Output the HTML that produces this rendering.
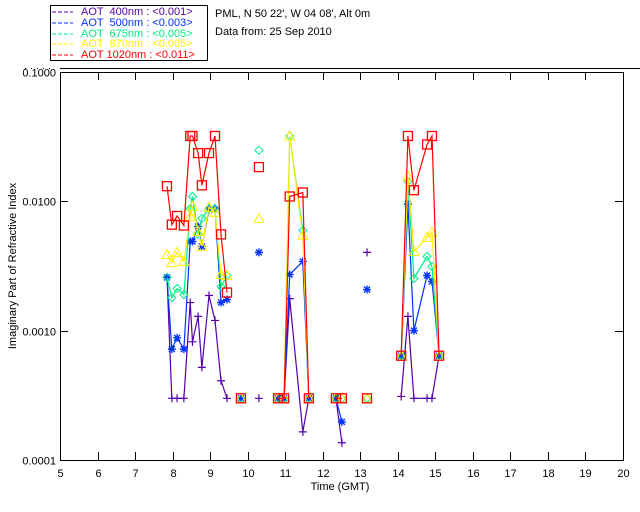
<!DOCTYPE html>
<html><head><meta charset="utf-8"><style>
body{margin:0;background:#fff;width:640px;height:512px;overflow:hidden}
svg{display:block;font-family:"Liberation Sans",sans-serif}
</style></head><body>
<svg id="chart" width="640" height="512">
<g>
<rect x="50.5" y="5.5" width="157" height="55" fill="#fff" stroke="#000"/>
<g font-size="11">
<g><line x1="52" y1="12" x2="73" y2="12" stroke="#5500aa" stroke-dasharray="4,2"/><text x="81" y="15" fill="#5500aa" xml:space="preserve">AOT  400nm : &lt;0.001&gt;</text></g>
<g><line x1="52" y1="23" x2="73" y2="23" stroke="#0033ff" stroke-dasharray="4,2"/><text x="81" y="26" fill="#0033ff" xml:space="preserve">AOT  500nm : &lt;0.003&gt;</text></g>
<g><line x1="52" y1="34" x2="73" y2="34" stroke="#00ee88" stroke-dasharray="4,2"/><text x="81" y="37" fill="#00ee88" xml:space="preserve">AOT  675nm : &lt;0.005&gt;</text></g>
<g><line x1="52" y1="44" x2="73" y2="44" stroke="#ffee00" stroke-dasharray="4,2"/><text x="81" y="47" fill="#ffee00" xml:space="preserve">AOT  870nm : &lt;0.005&gt;</text></g>
<g><line x1="52" y1="55" x2="73" y2="55" stroke="#ff0000" stroke-dasharray="4,2"/><text x="81" y="58" fill="#ff0000" xml:space="preserve">AOT 1020nm : &lt;0.011&gt;</text></g>
</g></g>
<text x="215" y="17" font-size="11">PML, N 50 22', W 04 08', Alt 0m</text>
<text x="215" y="35" font-size="11">Data from: 25 Sep 2010</text>
<line x1="25" y1="68.5" x2="55" y2="68.5" stroke="#000" stroke-dasharray="1,5"/>
<line x1="60" y1="68.5" x2="640" y2="68.5" stroke="#000"/>
<rect x="60.5" y="72.5" width="563" height="388" fill="none" stroke="#000"/>
<g id="axes" font-size="11"></g>
<g id="series"></g>
<text x="340" y="490" font-size="11" text-anchor="middle">Time (GMT)</text>
<text transform="translate(16,266) rotate(-90)" font-size="11" text-anchor="middle">Imaginary Part of Refractive Index</text>
</svg>
<script>
const times=[7.85,7.98,8.12,8.30,8.47,8.53,8.68,8.78,8.97,9.13,9.29,9.45,9.82,10.30,10.81,10.97,11.12,11.47,11.63,12.35,12.51,13.18,14.09,14.27,14.43,14.78,14.91,15.10];
const groups=[0,0,0,0,0,0,0,0,0,0,0,0,1,2,3,3,3,3,3,4,4,5,6,6,6,6,6,6];
const aot400=[0.0026,0.0003,0.0003,0.0003,0.00165,0.00082,0.00129,0.00052,0.00187,0.0012,0.00041,0.0003,0.0003,0.0003,0.0003,0.0003,0.00177,0.000165,0.0003,0.0003,0.000136,0.00403,0.00031,0.00129,0.0003,0.0003,0.0003,0.00064];
const aot500=[0.00258,0.00072,0.00088,0.00072,0.0049,0.0049,0.0064,0.00448,0.00867,0.00867,0.00165,0.00174,0.0003,0.00403,0.0003,0.0003,0.00272,0.00343,0.0003,0.0003,0.000197,0.00208,0.00064,0.0095,0.001,0.00267,0.0024,0.00064];
const aot675=[0.00258,0.0018,0.00212,0.0019,0.0088,0.0109,0.00555,0.00738,0.00883,0.00883,0.00219,0.00267,0.0003,0.0248,0.0003,0.0003,0.032,0.00596,0.0003,0.0003,0.0003,0.0003,0.00064,0.0143,0.00253,0.00375,0.00313,0.00064];
const aot870=[0.00388,0.00336,0.00403,0.00343,0.00765,0.00914,0.00585,0.00448,0.00898,0.00822,0.00272,0.00267,0.0003,0.00738,0.0003,0.0003,0.032,0.00545,0.0003,0.0003,0.0003,0.0003,0.00064,0.0156,0.00409,0.00526,0.00576,0.00064];
const aot1020=[0.0131,0.0066,0.0077,0.0065,0.032,0.032,0.0236,0.0133,0.0236,0.032,0.00555,0.00197,0.0003,0.0184,0.0003,0.0003,0.0109,0.0117,0.0003,0.0003,0.0003,0.0003,0.00064,0.032,0.0122,0.0275,0.032,0.00064];
const xTicks=[5,6,7,8,9,10,11,12,13,14,15,16,17,18,19,20];
const yTicks=[0.1,0.01,0.001,0.0001];
const yTickLabels=["0.1000","0.0100","0.0010","0.0001"];
const NS="http://www.w3.org/2000/svg";
const X0=60,X1=623,Y0=72,Y1=460;
function xs(t){return X0+(t-5)/(20-5)*(X1-X0);}
function ys(v){return Y0+(-1-Math.log10(v))/3*(Y1-Y0);}
function mk(tag,attrs,parent){const e=document.createElementNS(NS,tag);for(const k in attrs)e.setAttribute(k,attrs[k]);parent.appendChild(e);return e;}
const ax=document.getElementById('axes');
xTicks.forEach(t=>{const x=Math.round(xs(t))+0.5;
 const a=mk('line',{x1:x,y1:Y1,x2:x,y2:Y1-8,stroke:'#000'},ax);
 
 
 const b=mk('line',{x1:x,y1:Y0,x2:x,y2:Y0+8,stroke:'#000'},ax);
 
 
 const l=mk('text',{x:x,y:Y1+17,'text-anchor':'middle'},ax);l.textContent=t;
 
 
});
yTicks.forEach((v,i)=>{const y=Math.round(ys(v))+0.5;
 const a=mk('line',{x1:X0,y1:y,x2:X0+8,y2:y,stroke:'#000'},ax);
 
 
 const b=mk('line',{x1:X1,y1:y,x2:X1-8,y2:y,stroke:'#000'},ax);
 
 
 const l=mk('text',{x:X0-4,y:y+4,'text-anchor':'end'},ax);l.textContent=yTickLabels[i];
 
 
});
const sg=document.getElementById('series');
function marker(kind,x,y,c,g){
 let e;
 if(kind==='plus'){e=mk('path',{d:`M${x-4},${y}H${x+4}M${x},${y-4}V${y+4}`,stroke:c,fill:'none','stroke-width':1.2},g);}
 else if(kind==='star'){e=mk('path',{d:`M${x-4},${y}H${x+4}M${x},${y-4}V${y+4}M${x-3},${y-3}L${x+3},${y+3}M${x-3},${y+3}L${x+3},${y-3}`,stroke:c,fill:'none','stroke-width':1.4},g);}
 else if(kind==='diamond'){e=mk('path',{d:`M${x},${y-4}L${x+4},${y}L${x},${y+4}L${x-4},${y}Z`,stroke:c,fill:'none'},g);}
 else if(kind==='tri'){e=mk('path',{d:`M${x},${y-5}L${x+5},${y+4}L${x-5},${y+4}Z`,stroke:c,fill:'none'},g);}
 else {e=mk('rect',{x:x-4.5,y:y-4.5,width:9,height:9,stroke:c,fill:'none','stroke-width':1.3},g);}
 
 
}
function drawSeries(vals,color,kind,name){
 const g=mk('g',{},sg);
 
 
 let cur=null,d='';
 vals.forEach((v,i)=>{if(v==null)return;const x=xs(times[i]),y=ys(v);
  d+=(groups[i]===cur?'L':'M')+x.toFixed(1)+','+y.toFixed(1);cur=groups[i];});
 const p=mk('path',{d:d,stroke:color,fill:'none','stroke-width':1.2},g);
 
 
 vals.forEach((v,i)=>{if(v==null)return;marker(kind,xs(times[i]),ys(v),color,g);});
}
drawSeries(aot400,'#5500aa','plus','series-400nm');
drawSeries(aot500,'#0033ff','star','series-500nm');
drawSeries(aot675,'#00ee88','diamond','series-675nm');
drawSeries(aot870,'#ffee00','tri','series-870nm');
drawSeries(aot1020,'#ff0000','square','series-1020nm');
</script>
</body></html>
